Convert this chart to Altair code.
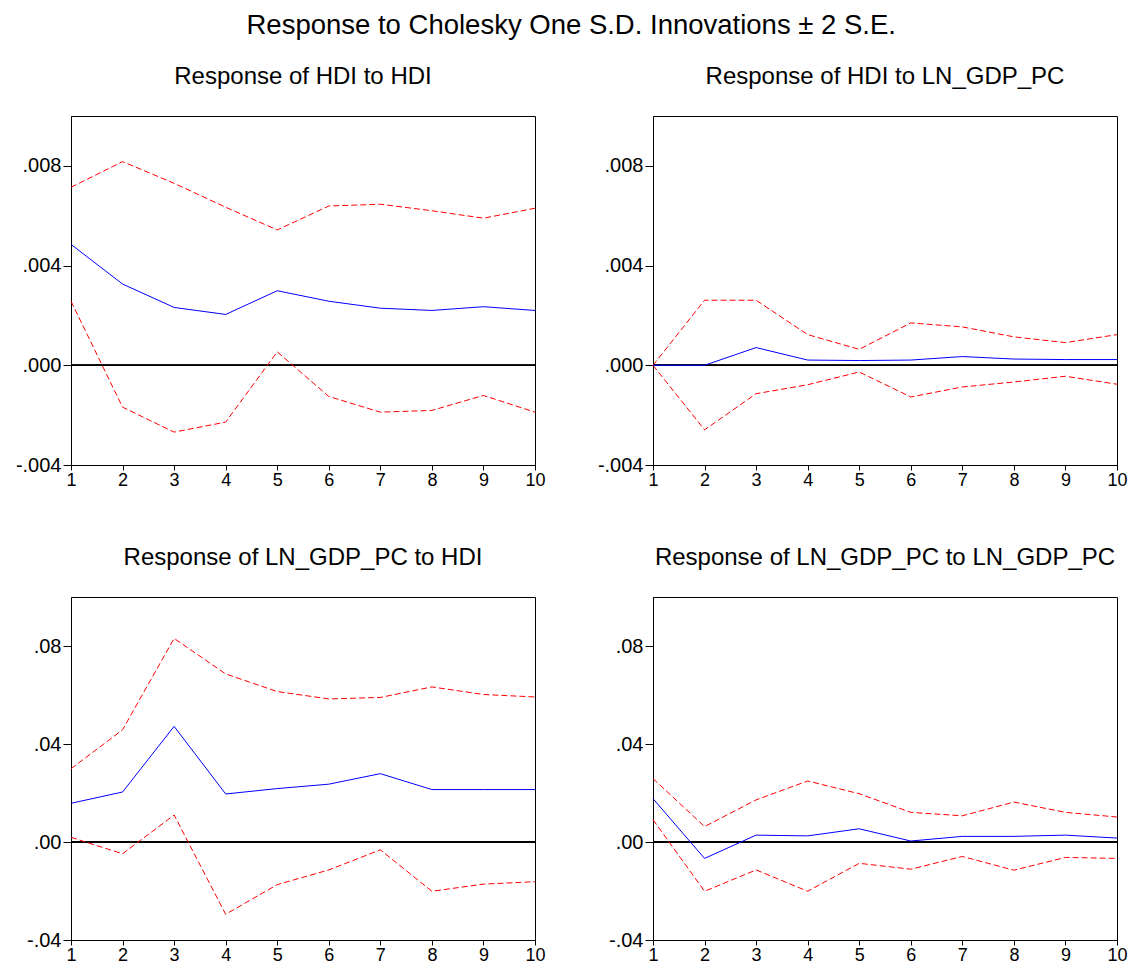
import altair as alt
import pandas as pd

steps = [1, 2, 3, 4, 5, 6, 7, 8, 9, 10]

# Response of HDI to HDI
hdi_hdi_resp = [0.00485, 0.00326, 0.00232, 0.00204, 0.00299, 0.00257, 0.00229, 0.00220, 0.00235, 0.00220]
hdi_hdi_upper = [0.00714, 0.00817, 0.00730, 0.00634, 0.00543, 0.00639, 0.00646, 0.00620, 0.00590, 0.00630]
hdi_hdi_lower = [0.00257, -0.00168, -0.00268, -0.00228, 0.00054, -0.00125, -0.00188, -0.00181, -0.00121, -0.00188]

# Response of HDI to LN_GDP_PC
hdi_gdp_resp = [0.0, 0.0, 0.00071, 0.00021, 0.00019, 0.00021, 0.00035, 0.00025, 0.00023, 0.00023]
hdi_gdp_upper = [0.0, 0.00261, 0.00261, 0.00123, 0.00064, 0.00170, 0.00154, 0.00114, 0.00091, 0.00123]
hdi_gdp_lower = [0.0, -0.00259, -0.00114, -0.00078, -0.00027, -0.00127, -0.00087, -0.00067, -0.00044, -0.00076]

# Response of LN_GDP_PC to HDI
gdp_hdi_resp = [0.0158, 0.0204, 0.0472, 0.0196, 0.0218, 0.0236, 0.0279, 0.0214, 0.0214, 0.0214]
gdp_hdi_upper = [0.0299, 0.0458, 0.0831, 0.0686, 0.0614, 0.0584, 0.0590, 0.0633, 0.0602, 0.0592]
gdp_hdi_lower = [0.0019, -0.0048, 0.0110, -0.0295, -0.0174, -0.0114, -0.0032, -0.0201, -0.0172, -0.0162]

# Response of LN_GDP_PC to LN_GDP_PC
gdp_gdp_resp = [0.0177, -0.0067, 0.0028, 0.0025, 0.0054, 0.0004, 0.0023, 0.0023, 0.0028, 0.0016]
gdp_gdp_upper = [0.0259, 0.0063, 0.0172, 0.0249, 0.0197, 0.0121, 0.0107, 0.0163, 0.0121, 0.0102]
gdp_gdp_lower = [0.0091, -0.0201, -0.0114, -0.0201, -0.0087, -0.0111, -0.0059, -0.0115, -0.0063, -0.0067]

top_domain = [-0.004, 0.010]
top_ticks = [-0.004, 0.0, 0.004, 0.008]
bot_domain = [-0.04, 0.10]
bot_ticks = [-0.04, 0.0, 0.04, 0.08]

FONT = "Liberation Sans"
W = 464


def panel(title, resp, upper, lower, ydom, yticks, fmt, h):
    df = pd.DataFrame({"step": steps, "resp": resp, "upper": upper, "lower": lower})
    xenc = alt.X(
        "step:Q",
        title=None,
        scale=alt.Scale(domain=[1, 10], nice=False, zero=False),
        axis=alt.Axis(values=steps, tickSize=5, labelPadding=1, labelFlush=False,
                      labelOverlap=False, format="d", labelFontSize=18),
    )
    yscale = alt.Scale(domain=ydom, nice=False, zero=False)
    yaxis = alt.Axis(
        values=yticks,
        tickSize=8,
        labelPadding=2,
        labelFontSize=20,
        labelExpr=f"replace(replace(format(datum.value, '{fmt}'), '0.', '.'), '\u2212', '-')",
    )
    base = alt.Chart(df)
    zero = base.mark_rule(color="black", strokeWidth=1).encode(
        y=alt.Y(datum=0, type="quantitative", scale=yscale, axis=yaxis, title=None)
    )
    up = base.mark_line(color="#ff0000", strokeWidth=1, strokeDash=[6, 3]).encode(
        x=xenc, y=alt.Y("upper:Q", scale=yscale, axis=yaxis, title=None)
    )
    lo = base.mark_line(color="#ff0000", strokeWidth=1, strokeDash=[6, 3]).encode(
        x=xenc, y=alt.Y("lower:Q", scale=yscale, axis=yaxis, title=None)
    )
    mid = base.mark_line(color="#0000ff", strokeWidth=1).encode(
        x=xenc, y=alt.Y("resp:Q", scale=yscale, axis=yaxis, title=None)
    )
    return alt.layer(zero, up, lo, mid).properties(
        width=W,
        height=h,
        title=alt.TitleParams(title, fontSize=24, font=FONT, fontWeight="normal",
                              color="black", anchor="middle", offset=27),
    )


p1 = panel("Response of HDI to HDI", hdi_hdi_resp, hdi_hdi_upper, hdi_hdi_lower,
           top_domain, top_ticks, ".3f", 349)
p2 = panel("Response of HDI to LN_GDP_PC", hdi_gdp_resp, hdi_gdp_upper, hdi_gdp_lower,
           top_domain, top_ticks, ".3f", 349)
p3 = panel("Response of LN_GDP_PC to HDI", gdp_hdi_resp, gdp_hdi_upper, gdp_hdi_lower,
           bot_domain, bot_ticks, ".2f", 343)
p4 = panel("Response of LN_GDP_PC to LN_GDP_PC", gdp_gdp_resp, gdp_gdp_upper, gdp_gdp_lower,
           bot_domain, bot_ticks, ".2f", 343)

chart = alt.concat(
    p1, p2, p3, p4, columns=2, spacing={"row": 132, "column": 118}, bounds="flush"
).properties(
    title=alt.TitleParams("Response to Cholesky One S.D. Innovations ± 2 S.E.",
                          fontSize=27.5, font=FONT, fontWeight="normal", color="black",
                          anchor="middle", offset=25),
    padding={"left": 6, "top": 4, "right": 0, "bottom": 0},
    background="white",
).configure_view(
    stroke="black", strokeWidth=1
).configure_axis(
    labelFont=FONT, labelColor="black", tickColor="black",
    domainColor="black", grid=False, domainWidth=1, tickWidth=1,
)

chart.save("out.html", embed_options={"renderer": "svg", "actions": False})
